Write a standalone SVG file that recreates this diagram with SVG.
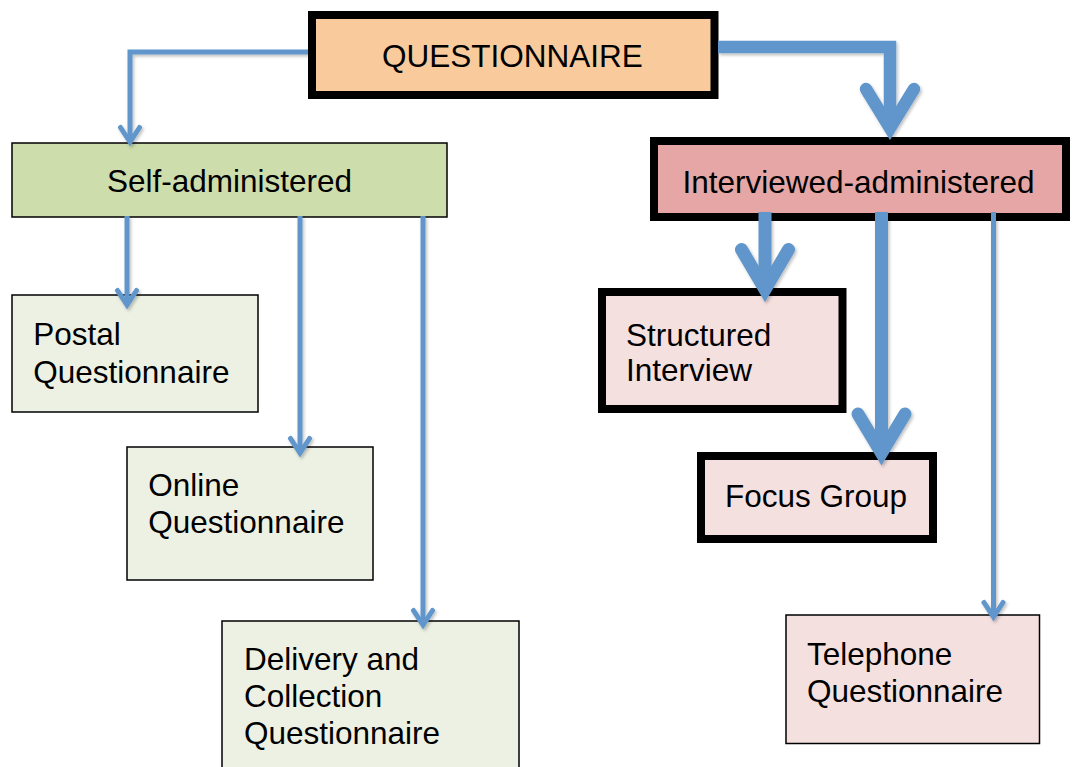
<svg xmlns="http://www.w3.org/2000/svg" width="1072" height="767" viewBox="0 0 1072 767">
<style>
text{font-family:"Liberation Sans",Arial,sans-serif;font-size:31.5px;fill:#000}
.thick{stroke:#000;stroke-width:8}
.thin{stroke:#000;stroke-width:1.5}
.c{fill:none;stroke:#6096CB;stroke-linecap:butt;stroke-linejoin:miter}
.h{fill:none;stroke:#6096CB;stroke-linecap:round;stroke-linejoin:miter;stroke-miterlimit:10}
</style>
<defs>
<filter id="sh" x="-20%" y="-20%" width="140%" height="140%">
<feDropShadow dx="1.5" dy="2" stdDeviation="1.5" flood-color="#000" flood-opacity="0.25"/>
</filter>
</defs>
<rect width="1072" height="767" fill="#fff"/>
<g id="questionnaire">
<rect class="thick" x="312" y="15" width="402.5" height="80" fill="#F9CB9C"/>
<text x="512.5" y="66.7" text-anchor="middle">QUESTIONNAIRE</text>
</g>
<g id="self-administered">
<rect class="thin" x="12" y="143" width="435" height="74" fill="#CDDDAC"/>
<text x="229.5" y="191.7" text-anchor="middle">Self-administered</text>
</g>
<g id="interviewed-administered">
<rect class="thick" x="654" y="141" width="412" height="76" fill="#E5A6A5"/>
<text x="858.5" y="193.3" text-anchor="middle">Interviewed-administered</text>
</g>
<g id="postal">
<rect class="thin" x="12" y="295" width="246" height="117" fill="#EDF1E3"/>
<text x="33.3" y="345">Postal</text>
<text x="33.3" y="383">Questionnaire</text>
</g>
<g id="online">
<rect class="thin" x="127" y="447" width="246" height="133" fill="#EDF1E3"/>
<text x="148.3" y="495.7">Online</text>
<text x="148.3" y="532.7">Questionnaire</text>
</g>
<g id="delivery">
<rect class="thin" x="222" y="621" width="297" height="152" fill="#EDF1E3"/>
<text x="244" y="670">Delivery and</text>
<text x="244" y="707">Collection</text>
<text x="244" y="744">Questionnaire</text>
</g>
<g id="structured">
<rect class="thick" x="602" y="292" width="240.5" height="117" fill="#F5E0E0"/>
<text x="626" y="346">Structured</text>
<text x="626" y="381">Interview</text>
</g>
<g id="focus-group">
<rect class="thick" x="701" y="456" width="232" height="83" fill="#F5E0E0"/>
<text x="725" y="506.7">Focus Group</text>
</g>
<g id="telephone">
<rect class="thin" x="786" y="615" width="253.5" height="128.5" fill="#F5E0E0"/>
<text x="807" y="665">Telephone</text>
<text x="807" y="702">Questionnaire</text>
</g>
<g id="connectors" filter="url(#sh)">
<path class="c" d="M308,52 H130 V140" stroke-width="5"/>
<path class="h" d="M120.5,127.5 L130,142 L139.5,127.5" stroke-width="5"/>
<path class="c" d="M718,47 H890 V126" stroke-width="12.5"/>
<path class="h" d="M866,89 L890,128 L914,89" stroke-width="12.5"/>
<path class="c" d="M127,216 V303" stroke-width="5"/>
<path class="h" d="M117.5,290.5 L127,305 L136.5,290.5" stroke-width="5"/>
<path class="c" d="M300,216 V451" stroke-width="5"/>
<path class="h" d="M290.5,438.5 L300,453 L309.5,438.5" stroke-width="5"/>
<path class="c" d="M423,216 V623" stroke-width="5"/>
<path class="h" d="M413.5,610.5 L423,625 L432.5,610.5" stroke-width="5"/>
<path class="c" d="M765,212 V288" stroke-width="13"/>
<path class="h" d="M741.5,249.5 L765,289.5 L788.5,249.5" stroke-width="13"/>
<path class="c" d="M881.5,212 V451" stroke-width="13"/>
<path class="h" d="M858,414 L881.5,453 L905,414" stroke-width="13"/>
<path class="c" d="M993.5,212 V615" stroke-width="5"/>
<path class="h" d="M984,602.5 L993.5,617 L1003,602.5" stroke-width="5"/>
</g>
</svg>
